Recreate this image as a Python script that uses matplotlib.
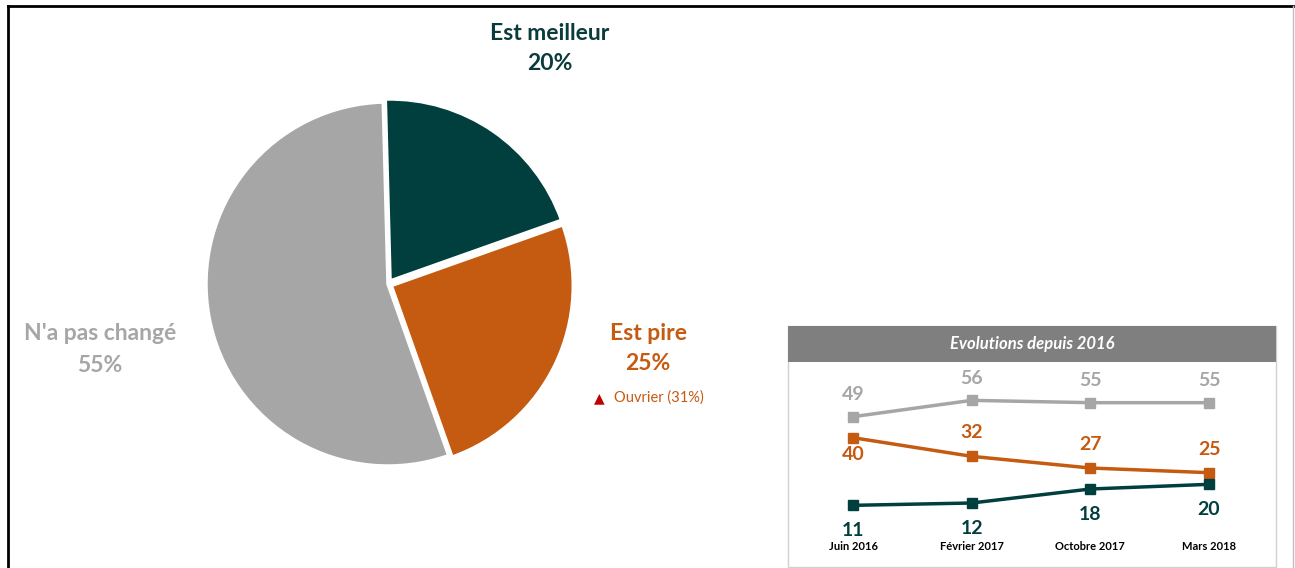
import matplotlib
matplotlib.use('Agg')
import matplotlib.pyplot as plt
from matplotlib.patches import Rectangle
from matplotlib.lines import Line2D

plt.rcParams['font.family'] = ['Lato', 'DejaVu Sans']

# pie data
pie_labels = ['Est meilleur', 'Est pire', "N'a pas changé"]
pie_values = [20, 25, 55]
pie_colors = ['#013f3f', '#c55a11', '#a6a6a6']

# evolution data
periods = ['Juin 2016', 'Février 2017', 'Octobre 2017', 'Mars 2018']
pas_change = [49, 56, 55, 55]
pire = [40, 32, 27, 25]
meilleur = [11, 12, 18, 20]

W, H = 1295, 568
fig = plt.figure(figsize=(W / 100, H / 100), dpi=100)


def fx(px):
    return px / W


def fy(py):
    return 1 - py / H


# outer frame
fig.add_artist(Line2D([fx(8), fx(1293)], [fy(6), fy(6)], color='black', lw=2))
fig.add_artist(Line2D([fx(8), fx(8)], [fy(6), 0], color='black', lw=2))
fig.add_artist(Line2D([fx(1293), fx(1293)], [fy(6), 0], color='#bfbfbf', lw=1))

# pie
cx, cy, r = 388, 284, 182
lim = 1.06
half = r * lim
ax = fig.add_axes([fx(cx - half), fy(cy + half), 2 * half / W, 2 * half / H])
ax.pie(pie_values, colors=pie_colors, startangle=91.5, counterclock=False,
       explode=[0.02, 0.02, 0.0], radius=1,
       wedgeprops=dict(edgecolor='white', linewidth=2.5))
ax.set_xlim(-lim, lim)
ax.set_ylim(-lim, lim)
ax.set_aspect('equal')
ax.axis('off')

big = 16.5
fig.text(fx(550), fy(33), 'Est meilleur', color='#0b3c3c', fontsize=big,
         fontweight='bold', ha='center', va='center')
fig.text(fx(550), fy(64), '20%', color='#0b3c3c', fontsize=big,
         fontweight='bold', ha='center', va='center')
fig.text(fx(648), fy(333), 'Est pire', color='#c55a11', fontsize=big,
         fontweight='bold', ha='center', va='center')
fig.text(fx(648), fy(364), '25%', color='#c55a11', fontsize=big,
         fontweight='bold', ha='center', va='center')
fig.text(fx(100), fy(334), "N'a pas changé", color='#a6a6a6', fontsize=big,
         fontweight='bold', ha='center', va='center')
fig.text(fx(100), fy(366), '55%', color='#a6a6a6', fontsize=big,
         fontweight='bold', ha='center', va='center')
fig.text(fx(594), fy(398), '▲', color='#c00000', fontsize=10,
         ha='left', va='center', family=['DejaVu Sans'])
fig.text(fx(614), fy(398), 'Ouvrier (31%)', color='#c55a11', fontsize=10.5,
         ha='left', va='center')

# inset box
bx0, bx1, by0, by1, hb = 788, 1276, 326, 567, 362
fig.add_artist(Rectangle((fx(bx0), fy(by1)), fx(bx1 - bx0), (by1 - by0) / H,
                         facecolor='white', edgecolor='#d0d0d0', lw=1,
                         zorder=-2))
fig.add_artist(Rectangle((fx(bx0), fy(hb)), fx(bx1 - bx0), (hb - by0) / H,
                         facecolor='#7f7f7f', edgecolor='none', zorder=-1))
fig.text(fx((bx0 + bx1) / 2), fy((by0 + hb) / 2), 'Evolutions depuis 2016',
         color='white', fontsize=12, fontweight='bold', style='italic',
         ha='center', va='center')

lx = fig.add_axes([fx(bx0), fy(by1), fx(bx1 - bx0), (by1 - hb) / H])
lx.set_zorder(5)
lx.patch.set_alpha(0)
xs = list(range(len(periods)))
series = [
    (pas_change, '#a6a6a6', [16, 16, 16, 16]),
    (pire, '#c55a11', [-12, 17, 17, 17]),
    (meilleur, '#013f3f', [-18, -18, -18, -18]),
]
for vals, col, offs in series:
    lx.plot(xs, vals, color=col, lw=2.5, marker='s', markersize=6.5,
            solid_joinstyle='round')
    for x, v, o in zip(xs, vals, offs):
        lx.annotate(str(v), (x, v), xytext=(0, o), textcoords='offset points',
                    ha='center', va='center', color=col, fontsize=14,
                    fontweight='bold')
for x, p in zip(xs, periods):
    lx.text(x, 0.098, p, transform=lx.get_xaxis_transform(), ha='center',
            va='center', fontsize=8, fontweight='bold', color='black')

px_per_unit = (1209 - 853) / 3
lx.set_xlim(-(853 - bx0) / px_per_unit, 3 + (bx1 - 1209) / px_per_unit)
vpx = 2.333
lx.set_ylim(-(by1 - 531) / vpx, (531 - hb) / vpx)
lx.axis('off')

fig.savefig('out.png', dpi=100)
